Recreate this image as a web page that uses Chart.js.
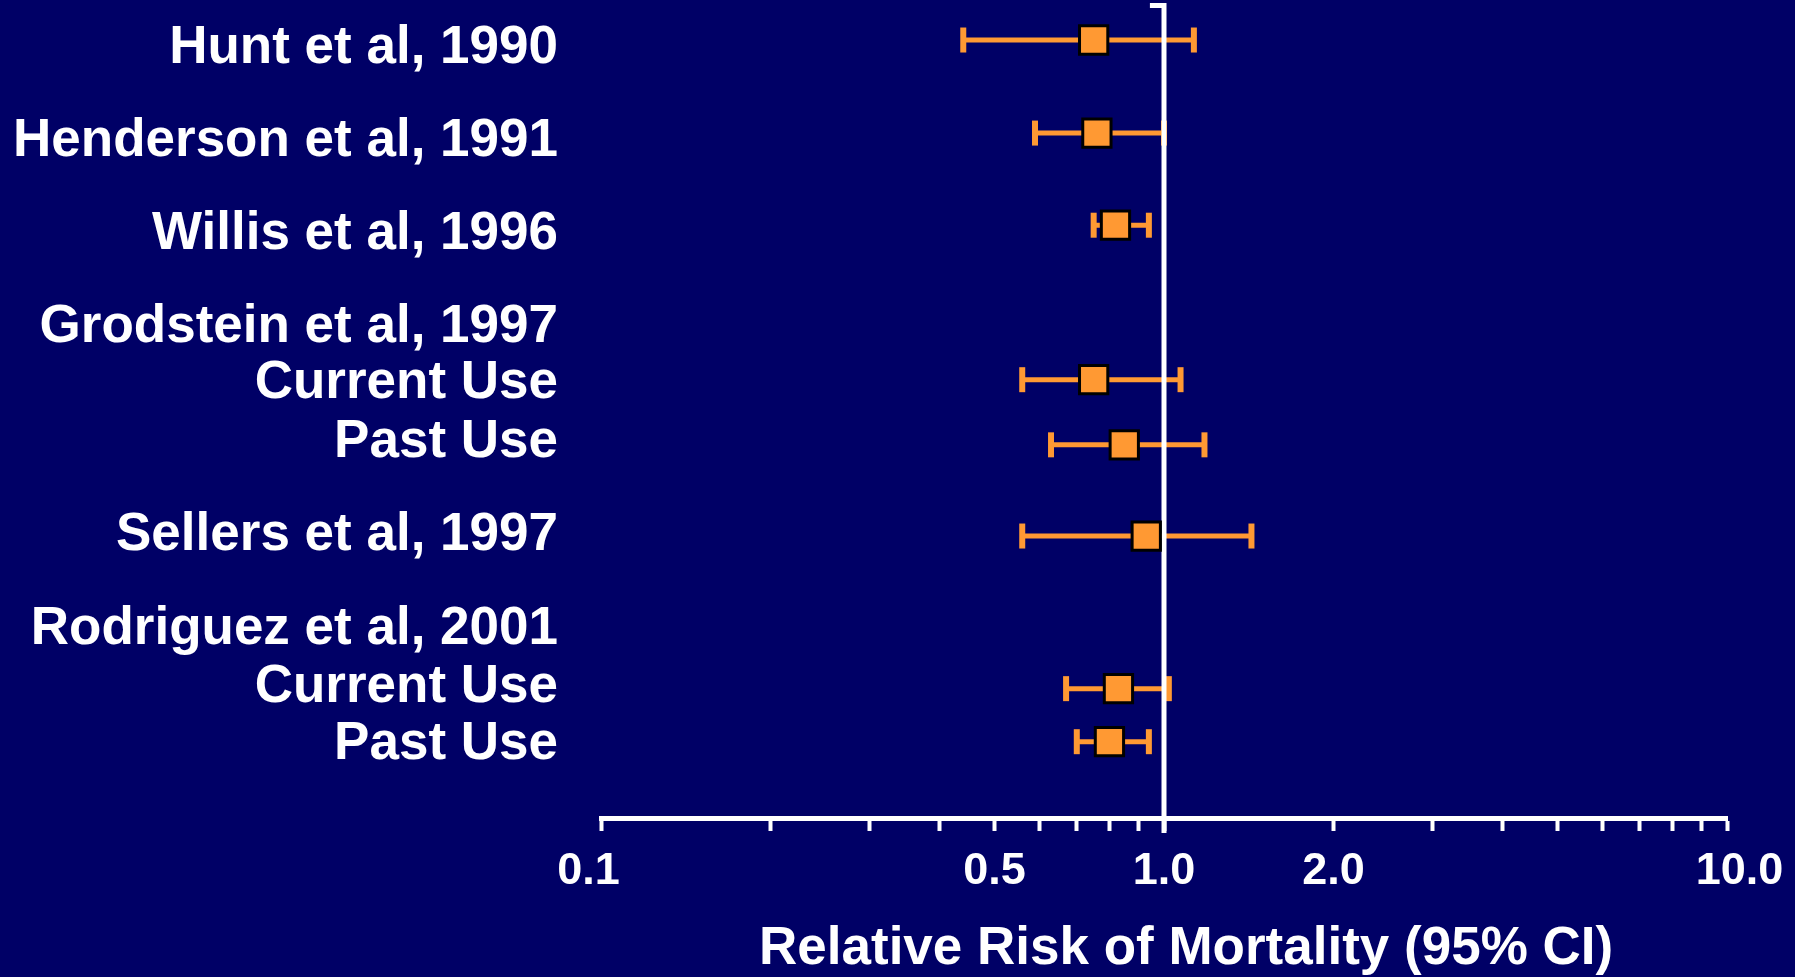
<!DOCTYPE html>
<html lang="en">
<head>
    <meta charset="UTF-8">
    <title>Relative Risk of Mortality</title>
    <script src="https://cdn.jsdelivr.net/npm/chart.js"></script>
    <style>
        html, body { margin: 0; padding: 0; background: #000066; }
        canvas { display: block; }
    </style>
</head>
<body>
    <canvas id="forestChart" width="1795" height="977"></canvas>

    <script>
        // rows on the left, top to bottom (headers have no estimate)
        const studies = ['Hunt et al, 1990', 'Henderson et al, 1991', 'Willis et al, 1996', 'Grodstein et al, 1997',
            'Current Use', 'Past Use', 'Sellers et al, 1997', 'Rodriguez et al, 2001', 'Current Use', 'Past Use'];
        const labelRows = [0, 1, 2, 3, 3.6, 4.23, 5.23, 6.24, 6.86, 7.48];
        const markRows  = [-0.06, 0.94, 1.93, null, 3.59, 4.29, 5.27, null, 6.91, 7.48];

        const relRisk = [0.75, 0.76, 0.82, null, 0.75, 0.85, 0.93, null, 0.83, 0.80];
        const ciLow   = [0.44, 0.59, 0.75, null, 0.56, 0.63, 0.56, null, 0.67, 0.70];
        const ciHigh  = [1.13, 1.00, 0.94, null, 1.07, 1.18, 1.43, null, 1.02, 0.94];

        const xTickValues = [0.1, 0.2, 0.3, 0.4, 0.5, 0.6, 0.7, 0.8, 0.9, 1, 2, 3, 4, 5, 6, 7, 8, 9, 10];
        const xLabelValues = [0.1, 0.5, 1, 2, 10];
        const xLabelText = ['0.1  ', '0.5', '1.0', '2.0', '  10.0'];

        const refValue = 1;
        const refNub = 0.944;
        const refTop = -0.43;
        const refBottom = 8.46;

        const orange = '#FF9933';
        const white = '#FFFFFF';
        const fontFamily = '"Liberation Sans", Arial, Helvetica, sans-serif';

        const datasets = [];

        // markers
        const marks = [];
        relRisk.forEach((v, i) => { if (v !== null) marks.push({ x: v, y: markRows[i] }); });
        datasets.push({
            type: 'scatter',
            data: marks,
            pointStyle: 'rect',
            pointRadius: 20,
            pointBackgroundColor: orange,
            pointBorderColor: '#000000',
            pointBorderWidth: 3,
            order: 0,
            clip: false
        });

        // reference line at 1.0
        datasets.push({
            type: 'line',
            data: [{ x: refNub, y: refTop }, { x: refValue, y: refTop }, { x: refValue, y: refBottom }],
            borderColor: white,
            borderWidth: 5,
            pointRadius: 0,
            fill: false,
            order: 1,
            clip: false
        });

        // confidence intervals with caps
        relRisk.forEach((v, i) => {
            if (v === null) return;
            datasets.push({
                type: 'line',
                data: [{ x: ciLow[i], y: markRows[i] }, { x: ciHigh[i], y: markRows[i] }],
                borderColor: orange,
                borderWidth: 5,
                pointStyle: 'line',
                pointRotation: 90,
                pointRadius: 12.5,
                pointBorderColor: orange,
                pointBorderWidth: 6,
                fill: false,
                order: 2,
                clip: false
            });
        });

        // keep the plot area exactly where the layout padding says
        function noScalePadding(scale) {
            scale.paddingTop = 0;
            scale.paddingBottom = 0;
            scale.paddingLeft = 0;
            scale.paddingRight = 0;
        }

        new Chart(document.getElementById('forestChart'), {
            type: 'scatter',
            data: { datasets: datasets },
            options: {
                responsive: false,
                animation: false,
                devicePixelRatio: 1,
                layout: { autoPadding: false, padding: { left: 0, right: 68, top: 0, bottom: 0 } },
                plugins: { legend: { display: false }, tooltip: { enabled: false } },
                scales: {
                    x: {
                        type: 'logarithmic',
                        min: 0.1,
                        max: 10,
                        afterBuildTicks: (scale) => { scale.ticks = xTickValues.map(v => ({ value: v })); },
                        afterFit: (scale) => { scale.height = 159; noScalePadding(scale); },
                        border: { display: true, color: white, width: 5 },
                        grid: {
                            display: true,
                            drawOnChartArea: false,
                            drawTicks: true,
                            tickLength: 13,
                            tickWidth: 4,
                            tickColor: white
                        },
                        ticks: {
                            autoSkip: false,
                            maxRotation: 0,
                            padding: 14,
                            color: white,
                            font: { family: fontFamily, size: 45, weight: 'bold' },
                            callback: (value) => {
                                const k = xLabelValues.findIndex(v => Math.abs(v - value) < 1e-9);
                                return k >= 0 ? xLabelText[k] : '';
                            }
                        },
                        title: {
                            display: true,
                            text: '   Relative Risk of Mortality (95% CI)',
                            color: white,
                            font: { family: fontFamily, size: 53, weight: 'bold', lineHeight: 1 },
                            padding: { top: 0, bottom: 1 }
                        }
                    },
                    y: {
                        type: 'linear',
                        min: -0.49,
                        max: 8.30,
                        reverse: true,
                        afterBuildTicks: (scale) => { scale.ticks = labelRows.map(v => ({ value: v })); },
                        afterFit: (scale) => { scale.width = 601; noScalePadding(scale); },
                        border: { display: false },
                        grid: { display: false, drawTicks: false },
                        ticks: {
                            autoSkip: false,
                            padding: 43,
                            labelOffset: 3,
                            color: white,
                            font: { family: fontFamily, size: 53, weight: 'bold' },
                            callback: (value, index) => studies[index]
                        }
                    }
                }
            }
        });
    </script>
</body>
</html>
